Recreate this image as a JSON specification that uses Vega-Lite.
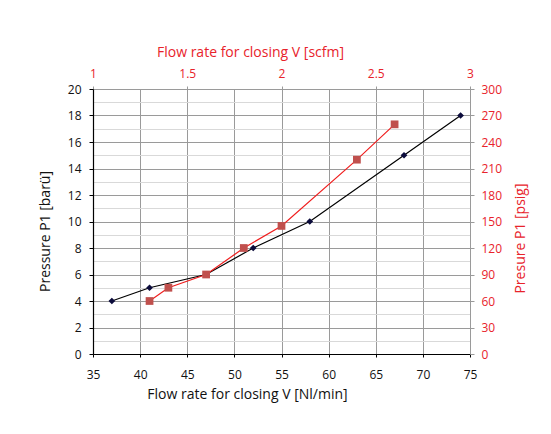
{
  "$schema": "https://vega.github.io/schema/vega-lite/v6.json",
  "width": 377,
  "height": 265,
  "autosize": "none",
  "padding": {"left": 93, "top": 89, "right": 81, "bottom": 80},
  "background": "white",
  "config": {
    "font": "Open Sans",
    "view": {"stroke": null},
    "axis": {"labelFont": "Open Sans", "titleFont": "Open Sans", "labelFontSize": 12, "titleFontSize": 14, "titleFontWeight": "normal", "labelColor": "#111", "titleColor": "#111"}
  },
  "datasets": {
    "metric": [
      {"flow_nlmin": 37, "pressure_bar": 4},
      {"flow_nlmin": 41, "pressure_bar": 5},
      {"flow_nlmin": 47, "pressure_bar": 6},
      {"flow_nlmin": 52, "pressure_bar": 8},
      {"flow_nlmin": 58, "pressure_bar": 10},
      {"flow_nlmin": 68, "pressure_bar": 15},
      {"flow_nlmin": 74, "pressure_bar": 18}
    ],
    "imperial": [
      {"flow_scfm": 1.3, "pressure_psig": 60},
      {"flow_scfm": 1.4, "pressure_psig": 75},
      {"flow_scfm": 1.6, "pressure_psig": 90},
      {"flow_scfm": 1.8, "pressure_psig": 120},
      {"flow_scfm": 2.0, "pressure_psig": 145},
      {"flow_scfm": 2.4, "pressure_psig": 220},
      {"flow_scfm": 2.6, "pressure_psig": 260}
    ]
  },
  "layer": [
    {
      "data": {"name": "metric"},
      "encoding": {
        "x": {
          "field": "flow_nlmin", "type": "quantitative",
          "scale": {"domain": [35, 75], "nice": false, "zero": false},
          "axis": {
            "orient": "bottom", "title": "Flow rate for closing V [Nl/min]",
            "values": [35, 40, 45, 50, 55, 60, 65, 70, 75],
            "grid": true, "gridColor": "#9a9a9a", "gridWidth": 1,
            "domainColor": "#000", "domainWidth": 1.2, "tickColor": "#000", "tickSize": 3,
            "labelPadding": 12, "titlePadding": 7, "titleX": 154, "labelFlush": false
          }
        },
        "y": {
          "field": "pressure_bar", "type": "quantitative",
          "scale": {"domain": [0, 20], "nice": false},
          "axis": {
            "orient": "left", "title": "Pressure P1 [barü]",
            "values": [0, 1, 2, 3, 4, 5, 6, 7, 8, 9, 10, 11, 12, 13, 14, 15, 16, 17, 18, 19, 20],
            "labelExpr": "datum.value % 2 === 0 ? datum.label : ''",
            "grid": true,
            "gridColor": {"condition": {"test": "datum.value % 2 === 0", "value": "#9a9a9a"}, "value": "#d9d9d9"},
            "gridWidth": 1.2,
            "tickOpacity": {"condition": {"test": "datum.value % 2 === 0", "value": 1}, "value": 0},
            "domainColor": "#000", "domainWidth": 1.2, "tickColor": "#000", "tickSize": 4,
            "labelPadding": 8, "titlePadding": 15, "titleY": 142, "labelFlush": false
          }
        }
      },
      "layer": [
        {"mark": {"type": "line", "color": "#000", "strokeWidth": 1.2}},
        {"mark": {"type": "point", "shape": "diamond", "filled": true, "color": "#0b0b3b", "opacity": 1, "size": 45}}
      ]
    },
    {
      "data": {"name": "imperial"},
      "encoding": {
        "x": {
          "field": "flow_scfm", "type": "quantitative",
          "scale": {"domain": [1, 3], "nice": false, "zero": false},
          "axis": {
            "orient": "top", "title": "Flow rate for closing V [scfm]",
            "values": [1, 1.5, 2, 2.5, 3], "format": "~g",
            "grid": false,
            "domainColor": "#9a9a9a", "tickColor": "#9a9a9a", "tickSize": 3,
            "labelColor": "#e8232b", "titleColor": "#e8232b",
            "labelPadding": 6, "titlePadding": 8, "titleX": 157, "labelFlush": false
          }
        },
        "y": {
          "field": "pressure_psig", "type": "quantitative",
          "scale": {"domain": [0, 300], "nice": false},
          "axis": {
            "orient": "right", "title": "Presure P1 [psig]", "titleAngle": 270, "titleBaseline": "top",
            "values": [0, 30, 60, 90, 120, 150, 180, 210, 240, 270, 300],
            "grid": false,
            "domainColor": "#9a9a9a", "tickColor": "#9a9a9a", "tickSize": 4,
            "labelColor": "#e8232b", "titleColor": "#e8232b",
            "labelPadding": 7, "titlePadding": 12, "titleY": 149, "labelFlush": false
          }
        }
      },
      "layer": [
        {"mark": {"type": "line", "color": "#f01e1e", "strokeWidth": 1.2}},
        {"mark": {"type": "square", "color": "#c0504d", "opacity": 1, "size": 60}}
      ]
    }
  ],
  "resolve": {"scale": {"x": "independent", "y": "independent"}}
}
